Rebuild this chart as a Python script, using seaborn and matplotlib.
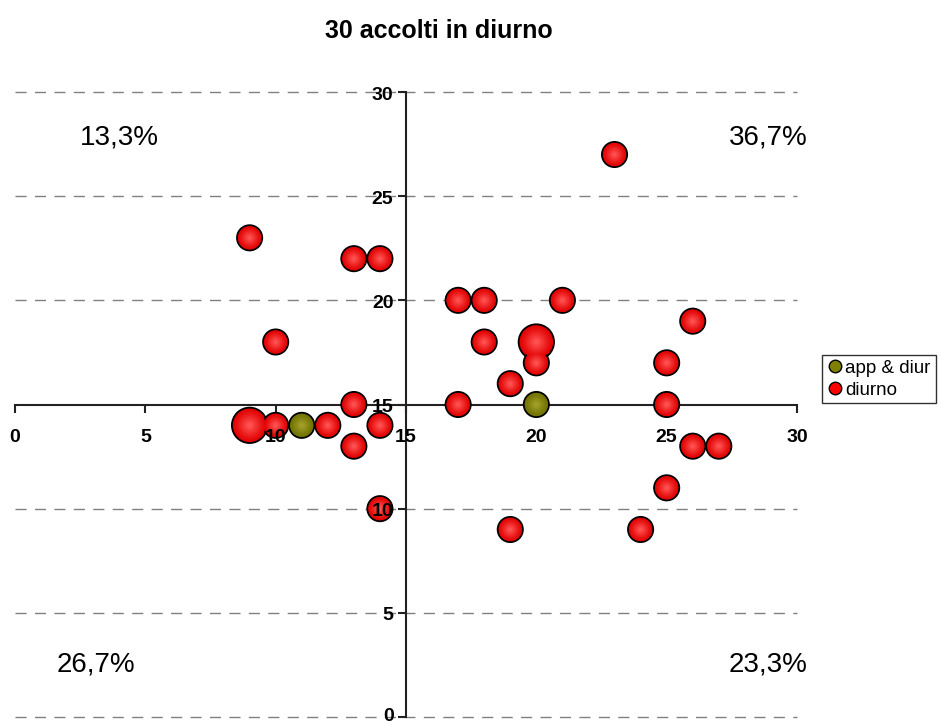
import matplotlib
matplotlib.use("Agg")
import matplotlib.pyplot as plt
from matplotlib.lines import Line2D
from matplotlib.colors import to_rgb
import seaborn as sns
import pandas as pd
import numpy as np

sns.set_theme(style="white")
plt.rcParams['font.family'] = ['Liberation Sans', 'DejaVu Sans']
plt.rcParams['text.color'] = 'black'

title = "30 accolti in diurno"

# series "diurno"
diurno_x = [9, 10, 12, 13, 13, 14, 14, 9, 10, 13, 14, 17, 18, 21, 18, 20, 20, 19, 17, 19, 23, 26, 25, 25, 26, 27, 25, 24]
diurno_y = [14, 14, 14, 15, 13, 14, 10, 23, 18, 22, 22, 20, 20, 20, 18, 18, 17, 16, 15, 9, 27, 19, 17, 15, 13, 13, 11, 9]
diurno_s = [2, 1, 1, 1, 1, 1, 1, 1, 1, 1, 1, 1, 1, 1, 1, 2, 1, 1, 1, 1, 1, 1, 1, 1, 1, 1, 1, 1]

# series "app & diur"
app_x = [11, 20]
app_y = [14, 15]
app_s = [1, 1]

series_names = ["app & diur", "diurno"]
series_colors = ["#808000", "#FF0000"]

axis_ticks = [0, 5, 10, 15, 20, 25, 30]
quadrant_labels = ["13,3%", "36,7%", "26,7%", "23,3%"]
quadrant_pos_x = [4.0, 28.9, 3.1, 28.9]
quadrant_pos_y = [27.8, 27.8, 2.5, 2.5]

df = pd.concat([
    pd.DataFrame({"x": app_x, "y": app_y, "s": app_s, "serie": series_names[0]}),
    pd.DataFrame({"x": diurno_x, "y": diurno_y, "s": diurno_s, "serie": series_names[1]}),
], ignore_index=True)

fig = plt.figure(figsize=(9.39, 7.25), dpi=100)
ax = fig.add_axes([15 / 939, 8 / 725, (797 - 15) / 939, (717 - 92) / 725])

# dashed horizontal gridlines
for t in axis_ticks:
    if t != 15:
        ax.axhline(t, color="#808080", lw=1.0, ls=(0, (8, 6)), zorder=1, clip_on=False)

# bubbles: base with edge, then lighter concentric layers for a shaded look
base_sizes = {1: 330, 2: 650}
edge_cols = [np.array(to_rgb("#707000")), np.array(to_rgb("#E00000"))]
center_cols = [np.array(to_rgb("#A0A028")), np.array(to_rgb("#FF5050"))]
n_layers = 10
for k in range(n_layers):
    f = k / (n_layers - 1)
    scale = (1.0 - 0.85 * f) ** 2
    cols = [tuple(e + (c - e) * f ** 1.2) for e, c in zip(edge_cols, center_cols)]
    edge = k == 0
    sns.scatterplot(data=df, x="x", y="y", hue="serie", size="s",
                    palette=dict(zip(series_names, cols)),
                    sizes={key: v * scale for key, v in base_sizes.items()},
                    edgecolor="black" if edge else "none", linewidth=1.3 if edge else 0,
                    legend=False, ax=ax, zorder=3 + k * 0.01, clip_on=False)

ax.set_xlim(0, 30)
ax.set_ylim(0, 30)
ax.set_xlabel("")
ax.set_ylabel("")
ax.set_xticks(axis_ticks)
ax.set_yticks(axis_ticks)

for side in ["top", "right"]:
    ax.spines[side].set_visible(False)
ax.spines["left"].set_position(("data", 15))
ax.spines["bottom"].set_position(("data", 15))
for side in ["left", "bottom"]:
    ax.spines[side].set_color("#222222")
    ax.spines[side].set_linewidth(1.5)
    ax.spines[side].set_zorder(2)

ax.tick_params(axis="x", direction="out", length=6, width=1.5, color="#222222", bottom=True, labelbottom=False)
ax.tick_params(axis="y", direction="out", length=6, width=1.5, color="#222222", left=True, labelleft=False)
ax.xaxis.set_zorder(2)
ax.yaxis.set_zorder(2)
ax.set_facecolor("white")

# tick labels drawn on top of the bubbles
for t in axis_ticks:
    ax.annotate(str(t), xy=(t, 15), xytext=(0, -23.5), textcoords="offset points",
                ha="center", va="center", fontsize=14, fontweight="bold", color="black",
                zorder=6, annotation_clip=False)
    ax.annotate(str(t), xy=(15, t), xytext=(-9, -2.2 if t > 0 else 0.5), textcoords="offset points",
                ha="right", va="center", fontsize=14, fontweight="bold", color="black",
                zorder=6, annotation_clip=False)

for lab, px, py in zip(quadrant_labels, quadrant_pos_x, quadrant_pos_y):
    ax.text(px, py, lab, fontsize=20, ha="center", va="center", color="black", clip_on=False, zorder=5)

fig.text(0.467, 1 - 31 / 725, title, ha="center", va="center", fontsize=18, fontweight="bold", color="black")

handles = [Line2D([], [], marker="o", linestyle="", markerfacecolor=c, markeredgecolor="black",
                  markeredgewidth=1.0, markersize=9) for c in series_colors]
leg = fig.legend(handles, series_names, loc="upper left", bbox_to_anchor=(822 / 939, 1 - 355 / 725),
                 frameon=True, fancybox=False, shadow=False, fontsize=13.5, handletextpad=0.1,
                 borderpad=0.25, labelspacing=0.25, handlelength=0.9, borderaxespad=0)
leg.get_frame().set_edgecolor("black")
leg.get_frame().set_linewidth(1.0)
for txt in leg.get_texts():
    txt.set_color("black")

fig.savefig("out.png", dpi=100)
